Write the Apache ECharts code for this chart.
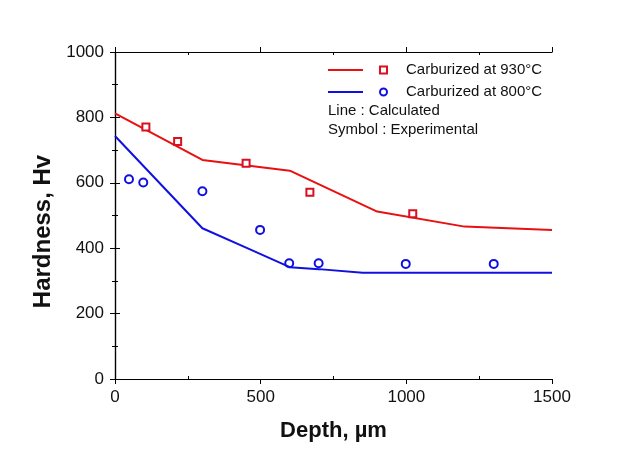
<!DOCTYPE html>
<html>
<head>
<meta charset="utf-8">
<script src="https://cdn.jsdelivr.net/npm/echarts@6/dist/echarts.min.js"></script>
<style>
html,body{margin:0;padding:0;background:#fff;}
#c{width:641px;height:454px;}
</style>
</head>
<body>
<div id="c"></div>
<script>
// Calculated lines (depth µm, hardness Hv)
const calc930X = [0, 300, 600, 900, 1200, 1350, 1500];
const calc930Y = [812, 670, 637, 512, 466, 461, 456];
const calc800X = [0, 300, 450, 600, 700, 850, 1500];
const calc800Y = [743, 461, 402, 342, 336, 325, 325];
// Experimental symbols
const exp930X = [106, 215, 450, 669, 1022];
const exp930Y = [771, 726, 660, 571, 505];
const exp800X = [48, 97, 300, 498, 598, 699, 998, 1300];
const exp800Y = [611, 601, 574, 456, 354, 354, 352, 352];
// Axis ticks
const xTicks = [0, 500, 1000, 1500];
const yTicks = [0, 200, 400, 600, 800, 1000];
const xMinor = [250, 750, 1250];

const legendLabels = ['Carburized at 930°C', 'Carburized at 800°C', 'Line : Calculated', 'Symbol : Experimental'];

const RED = '#e81010';
const BLUE = '#1010e0';
const FONT = 'Liberation Sans, Arial, sans-serif';

const zip = (xs, ys) => xs.map((x, i) => [x, ys[i]]);
const plain = v => String(v);

const chart = echarts.init(document.getElementById('c'), null, {renderer: 'canvas'});
const grid = {left: 115, right: 89, top: 52, bottom: 75};
const axisLine = {show: true, lineStyle: {color: '#000', width: 1.2}};

const option = {
  backgroundColor: '#fff',
  animation: false,
  grid: grid,
  xAxis: [
    {
      type: 'value', position: 'bottom', min: xTicks[0], max: xTicks[xTicks.length - 1], interval: 500,
      axisLine: axisLine,
      axisTick: {show: true, length: 5, inside: false, lineStyle: {color: '#000'}},
      axisLabel: {color: '#111', fontSize: 17, fontFamily: FONT, margin: 10, formatter: plain},
      splitLine: {show: false},
      name: 'Depth, µm', nameLocation: 'middle', nameGap: 41,
      nameTextStyle: {fontSize: 22, fontWeight: 'bold', color: '#111', fontFamily: FONT}
    },
    {
      type: 'value', position: 'bottom', min: 0, max: 1500, interval: 500,
      axisLine: {show: false},
      axisTick: {show: true, length: 3, inside: true, customValues: xMinor, lineStyle: {color: '#000'}},
      axisLabel: {show: false}, splitLine: {show: false}
    },
    {
      type: 'value', position: 'top', min: 0, max: 1500, interval: 500,
      axisLine: axisLine,
      axisTick: {show: true, length: 5, inside: false, lineStyle: {color: '#000'}},
      axisLabel: {show: false}, splitLine: {show: false}
    },
    {
      type: 'value', position: 'top', min: 0, max: 1500, interval: 500,
      axisLine: {show: false},
      axisTick: {show: true, length: 3, inside: true, customValues: xMinor, lineStyle: {color: '#000'}},
      axisLabel: {show: false}, splitLine: {show: false}
    }
  ],
  yAxis: [
    {
      type: 'value', position: 'left', min: yTicks[0], max: yTicks[yTicks.length - 1], interval: 200,
      axisLine: axisLine,
      axisTick: {show: true, length: 5, lineStyle: {color: '#000'}},
      minorTick: {show: true, splitNumber: 2, length: 3, lineStyle: {color: '#000'}},
      axisLabel: {color: '#111', fontSize: 17, fontFamily: FONT, margin: 11, formatter: plain},
      splitLine: {show: false},
      name: 'Hardness, Hv', nameLocation: 'middle', nameGap: 56, nameRotate: 90,
      nameTextStyle: {fontSize: 24, fontWeight: 'bold', color: '#111', fontFamily: FONT, padding: [0, 32, 0, 0]}
    },
    {
      type: 'value', position: 'right', min: 0, max: 1000, interval: 200,
      axisLine: axisLine,
      axisTick: {show: true, length: 5, lineStyle: {color: '#000'}},
      minorTick: {show: true, splitNumber: 2, length: 3, lineStyle: {color: '#000'}},
      axisLabel: {show: false}, splitLine: {show: false}
    }
  ],
  graphic: [
    {type: 'line', shape: {x1: 328, y1: 70, x2: 363, y2: 70}, style: {stroke: RED, lineWidth: 2}},
    {type: 'rect', shape: {x: 380, y: 66.5, width: 7, height: 7}, style: {fill: '#fff', stroke: '#d81020', lineWidth: 2}},
    {type: 'text', x: 406, y: 70, style: {text: legendLabels[0], fontSize: 15, fontFamily: FONT, fill: '#111', verticalAlign: 'middle'}},
    {type: 'line', shape: {x1: 328, y1: 92, x2: 363, y2: 92}, style: {stroke: BLUE, lineWidth: 2}},
    {type: 'circle', shape: {cx: 383.5, cy: 92, r: 3.5}, style: {fill: '#fff', stroke: BLUE, lineWidth: 2}},
    {type: 'text', x: 406, y: 92, style: {text: legendLabels[1], fontSize: 15, fontFamily: FONT, fill: '#111', verticalAlign: 'middle'}},
    {type: 'text', x: 328, y: 111, style: {text: legendLabels[2], fontSize: 15, fontFamily: FONT, fill: '#111', verticalAlign: 'middle'}},
    {type: 'text', x: 328, y: 130, style: {text: legendLabels[3], fontSize: 15, fontFamily: FONT, fill: '#111', verticalAlign: 'middle'}}
  ],
  series: [
    {type: 'line', name: 'Calc 930', data: zip(calc930X, calc930Y), showSymbol: false, symbol: 'none',
     lineStyle: {color: RED, width: 2}, z: 2},
    {type: 'line', name: 'Calc 800', data: zip(calc800X, calc800Y), showSymbol: false, symbol: 'none',
     lineStyle: {color: BLUE, width: 2}, z: 2},
    {type: 'scatter', name: 'Exp 930', data: zip(exp930X, exp930Y), symbol: 'rect', symbolSize: 7,
     itemStyle: {color: '#fff', borderColor: '#d81020', borderWidth: 2, opacity: 1}, z: 3},
    {type: 'scatter', name: 'Exp 800', data: zip(exp800X, exp800Y), symbol: 'circle', symbolSize: 8,
     itemStyle: {color: 'rgba(255,255,255,0)', borderColor: BLUE, borderWidth: 2, opacity: 1}, z: 3}
  ]
};
chart.setOption(option);
</script>
</body>
</html>
